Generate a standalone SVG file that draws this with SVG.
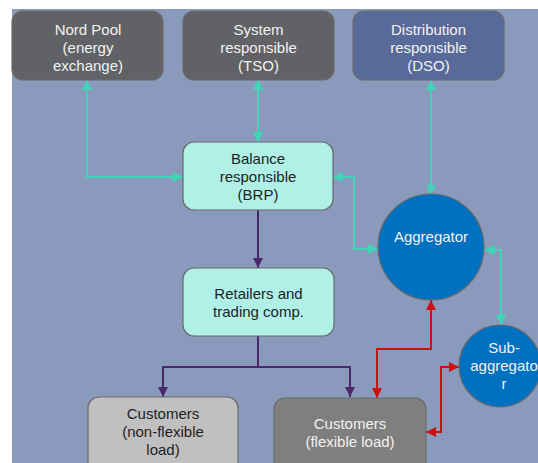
<svg xmlns="http://www.w3.org/2000/svg" width="538" height="463" viewBox="0 0 538 463">
<defs>
<style>
.n{stroke:#6a6a6a;stroke-width:1.2}
.t{font-family:"Liberation Sans",Arial,sans-serif;font-size:15px;text-anchor:middle}
.w{fill:#f2f2f2}
.d{fill:#1e1e1e}
.c{fill:none;stroke-width:2}
.teal{stroke:#3ed6b6}
.pur{stroke:#4a2868}
.red{stroke:#cc1010}
</style>
<marker id="at" viewBox="0 0 10 10" refX="10" refY="5" markerWidth="10" markerHeight="10" markerUnits="userSpaceOnUse" orient="auto-start-reverse"><path d="M0,0 L10,5 L0,10 z" fill="#3ed6b6"/></marker>
<marker id="ap" viewBox="0 0 10 10" refX="10" refY="5" markerWidth="10" markerHeight="10" markerUnits="userSpaceOnUse" orient="auto-start-reverse"><path d="M0,0 L10,5 L0,10 z" fill="#4a2868"/></marker>
<marker id="ar" viewBox="0 0 10 10" refX="10" refY="5" markerWidth="10" markerHeight="10" markerUnits="userSpaceOnUse" orient="auto-start-reverse"><path d="M0,0 L10,5 L0,10 z" fill="#cc1010"/></marker>
</defs>
<rect x="0" y="0" width="538" height="463" fill="#ffffff"/>
<rect x="12" y="9" width="526" height="454" fill="#8a9abd"/>

<g id="connectors">
<path class="c teal" d="M87,80 L87,177 L183,177" marker-start="url(#at)" marker-end="url(#at)"/>
<path class="c teal" d="M258,80 L258,142" marker-start="url(#at)" marker-end="url(#at)"/>
<path class="c teal" d="M431,80 L431,195" marker-start="url(#at)" marker-end="url(#at)"/>
<path class="c teal" d="M333,177 L354,177 L354,249 L378,249" marker-start="url(#at)" marker-end="url(#at)"/>
<path class="c teal" d="M485,250 L501,250 L501,325" marker-start="url(#at)" marker-end="url(#at)"/>
<path class="c pur" d="M258,210 L258,268" marker-end="url(#ap)"/>
<path class="c pur" d="M258,336 L258,367 L163,367 L163,397" marker-end="url(#ap)"/>
<path class="c pur" d="M258,367 L350,367 L350,397" marker-end="url(#ap)"/>
<path class="c red" d="M431,300 L431,349 L377,349 L377,398" marker-start="url(#ar)" marker-end="url(#ar)"/>
<path class="c red" d="M426,432 L441,432 L441,367 L459,367" marker-start="url(#ar)" marker-end="url(#ar)"/>
</g>

<g id="nordpool">
<rect class="n" x="12" y="11" width="151" height="69" rx="11" fill="#606266"/>
<text class="t w" x="88" y="34.5">Nord Pool</text>
<text class="t w" x="88" y="52.5">(energy</text>
<text class="t w" x="88" y="70.5">exchange)</text>
</g>
<g id="tso">
<rect class="n" x="183" y="11" width="151" height="69" rx="11" fill="#606266"/>
<text class="t w" x="258.5" y="34.5">System</text>
<text class="t w" x="258.5" y="52.5">responsible</text>
<text class="t w" x="258.5" y="70.5">(TSO)</text>
</g>
<g id="dso">
<rect class="n" x="353" y="11" width="151" height="69" rx="11" fill="#576a9a"/>
<text class="t w" x="428.5" y="34.5">Distribution</text>
<text class="t w" x="428.5" y="52.5">responsible</text>
<text class="t w" x="428.5" y="70.5">(DSO)</text>
</g>
<g id="brp">
<rect class="n" x="183" y="142" width="150" height="68" rx="11" fill="#b0f0e6"/>
<text class="t d" x="258" y="164">Balance</text>
<text class="t d" x="258" y="182">responsible</text>
<text class="t d" x="258" y="200">(BRP)</text>
</g>
<g id="retailers">
<rect class="n" x="183" y="268" width="151" height="68" rx="11" fill="#b0f0e6"/>
<text class="t d" x="258.5" y="299">Retailers and</text>
<text class="t d" x="258.5" y="317">trading comp.</text>
</g>
<g id="customers-nonflex">
<rect class="n" x="88" y="397" width="150" height="80" rx="11" fill="#c0c0c0"/>
<text class="t d" x="163" y="419">Customers</text>
<text class="t d" x="163" y="437">(non-flexible</text>
<text class="t d" x="163" y="455">load)</text>
</g>
<g id="customers-flex">
<rect class="n" x="274" y="398" width="152" height="80" rx="11" fill="#7f7f7f"/>
<text class="t w" x="350" y="429">Customers</text>
<text class="t w" x="350" y="447">(flexible load)</text>
</g>
<g id="aggregator">
<circle class="n" cx="431" cy="247" r="53" fill="#0070c0"/>
<text class="t w" x="431" y="242">Aggregator</text>
</g>
<g id="subaggregator">
<circle class="n" cx="500" cy="366" r="41" fill="#0070c0"/>
<text class="t w" x="504" y="353">Sub-</text>
<text class="t w" x="504" y="371">aggregato</text>
<text class="t w" x="504" y="389">r</text>
</g>
</svg>
